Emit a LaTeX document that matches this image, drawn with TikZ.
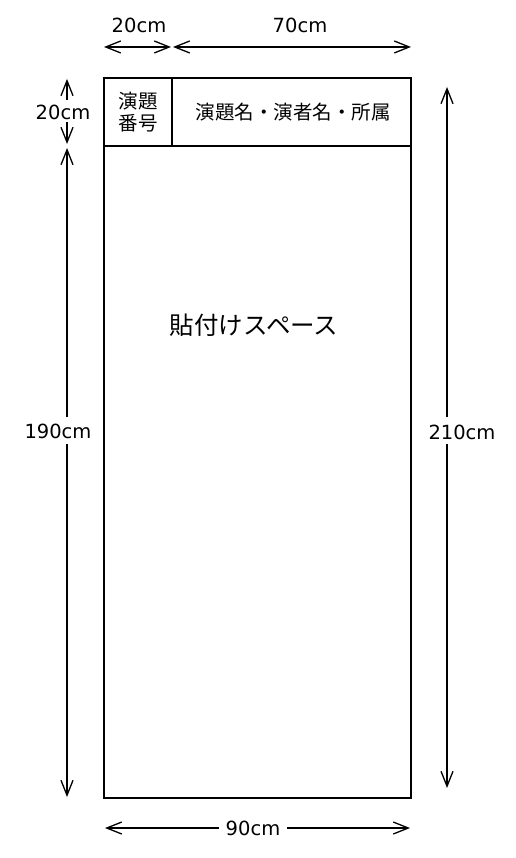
\documentclass[tikz,border=0pt]{standalone}
\usepackage{fontspec}
\setmainfont{DejaVu Sans}
\newfontfamily\jp{Noto Sans CJK JP}
\usetikzlibrary{arrows.meta}
\begin{document}
\begin{tikzpicture}[x=1pt,y=-1pt,
  dimline/.style={line width=1.3pt,-{Straight Barb[length=15pt,width=12pt,line width=1.3pt]}},
  dimboth/.style={line width=1.3pt,{Straight Barb[length=15pt,width=12pt,line width=1.3pt]}-{Straight Barb[length=15pt,width=12pt,line width=1.3pt]}},
  dimlabel/.style={inner sep=0pt,font=\fontsize{19.5}{21}\selectfont},
  jplabel/.style={inner sep=0pt,align=center,font=\jp\fontsize{19.5}{22.5}\selectfont},
  frame/.style={line width=2.4pt}]
\useasboundingbox (0,0) rectangle (515,858);
% frame
\coordinate (tl) at (104,78);
\coordinate (br) at (411,798);
\coordinate (hl) at (104,146);
\coordinate (hr) at (411,146);
\coordinate (dt) at (172,78);
\coordinate (db) at (172,146);
\draw[frame] (tl) rectangle (br);
\draw[frame] (hl) -- (hr);
\draw[frame] (dt) -- (db);
% texts
\node[jplabel] (num) at (138,112) {演題\\番号};
\node[jplabel] (title) at (293,112) {演題名・演者名・所属};
\node[jplabel,font=\jp\fontsize{24.5}{26}\selectfont] (paste) at (254,325) {貼付けスペース};
% top dimensions
\coordinate (a1) at (104,47);
\coordinate (a2) at (171,47);
\coordinate (b1) at (173,47);
\coordinate (b2) at (411,47);
\draw[dimboth] (a1) -- (a2);
\draw[dimboth] (b1) -- (b2);
\node[dimlabel] (l20t) at (139,25) {20cm};
\node[dimlabel] (l70) at (300,25) {70cm};
% left dimensions
\node[dimlabel] (l20l) at (63,112) {20cm};
\coordinate (c1) at (67,100);
\coordinate (c1e) at (67,79);
\coordinate (c2) at (67,122);
\coordinate (c2e) at (67,144);
\draw[dimline] (c1) -- (c1e);
\draw[dimline] (c2) -- (c2e);
\node[dimlabel] (l190) at (58,431) {190cm};
\coordinate (d1) at (67,417);
\coordinate (d1e) at (67,148);
\coordinate (d2) at (67,444);
\coordinate (d2e) at (67,797);
\draw[dimline] (d1) -- (d1e);
\draw[dimline] (d2) -- (d2e);
% right dimension
\node[dimlabel] (l210) at (462,432) {210cm};
\coordinate (e1) at (447,417);
\coordinate (e1e) at (447,87);
\coordinate (e2) at (447,444);
\coordinate (e2e) at (447,788);
\draw[dimline] (e1) -- (e1e);
\draw[dimline] (e2) -- (e2e);
% bottom dimension
\node[dimlabel] (l90) at (253,828) {90cm};
\coordinate (f1) at (219,828);
\coordinate (f1e) at (105,828);
\coordinate (f2) at (287,828);
\coordinate (f2e) at (410,828);
\draw[dimline] (f1) -- (f1e);
\draw[dimline] (f2) -- (f2e);
\end{tikzpicture}
\end{document}
